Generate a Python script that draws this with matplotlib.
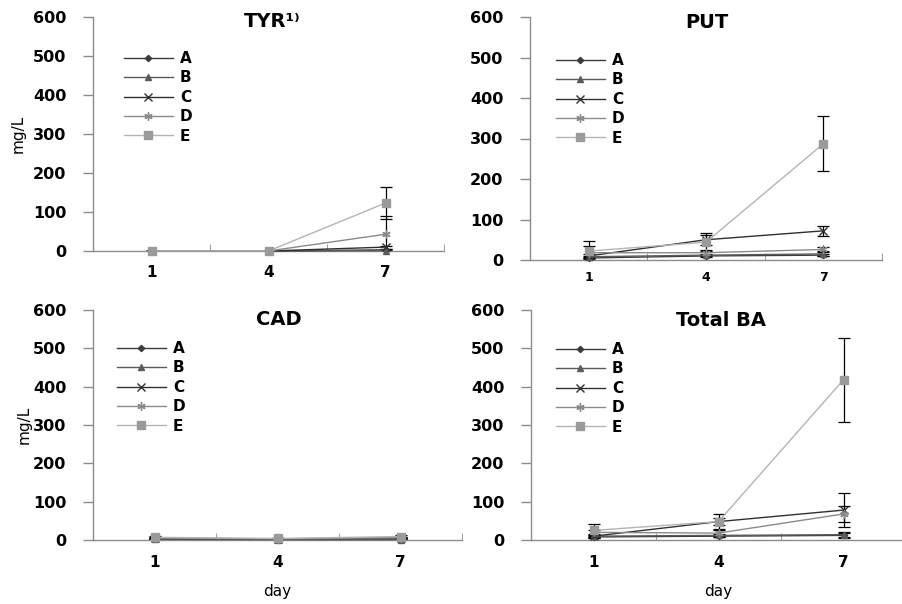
import matplotlib
matplotlib.use("Agg")
import matplotlib.pyplot as plt
import numpy as np

days = ["1", "4", "7"]
series = ["A", "B", "C", "D", "E"]

tyr_vals = {"A": [0, 0, 3], "B": [0, 0, 1], "C": [0, 0, 10], "D": [0, 0, 43], "E": [0, 0, 123]}
tyr_errs = {"A": [0, 0, 3], "B": [0, 0, 2], "C": [0, 0, 4], "D": [0, 0, 47], "E": [0, 0, 42]}

put_vals = {"A": [5, 10, 12], "B": [8, 12, 15], "C": [10, 50, 72], "D": [18, 18, 26], "E": [22, 44, 287]}
put_errs = {"A": [2, 3, 3], "B": [3, 3, 4], "C": [5, 12, 12], "D": [17, 6, 5], "E": [24, 22, 68]}

cad_vals = {"A": [3, 2, 2], "B": [2, 1, 1], "C": [4, 3, 5], "D": [5, 3, 6], "E": [7, 4, 9]}
cad_errs = {"A": [1, 1, 1], "B": [1, 1, 1], "C": [2, 1, 2], "D": [2, 1, 2], "E": [3, 2, 3]}

tot_vals = {"A": [8, 10, 12], "B": [10, 12, 14], "C": [10, 48, 78], "D": [20, 18, 68], "E": [25, 48, 418]}
tot_errs = {"A": [3, 3, 5], "B": [3, 4, 8], "C": [6, 10, 44], "D": [6, 8, 22], "E": [18, 20, 110]}

titles = ["TYR\u00b9\u207e", "PUT", "CAD", "Total BA"]

styles = {
    "A": dict(color="#3c3c3c", marker="D", ms=3.2, mfc="#3c3c3c", mec="#3c3c3c"),
    "B": dict(color="#5a5a5a", marker="^", ms=4.5, mfc="#5a5a5a", mec="#5a5a5a"),
    "C": dict(color="#303030", marker="x", ms=5.5, mfc="#303030", mec="#303030"),
    "D": dict(color="#8a8a8a", marker=(6, 2, 0), ms=6, mfc="#8a8a8a", mec="#8a8a8a"),
    "E": dict(color="#b4b4b4", marker="s", ms=5.5, mfc="#9a9a9a", mec="#9a9a9a"),
}

W, H = 902, 604
fig = plt.figure(figsize=(W / 100, H / 100), dpi=100)

# pixel boxes: left, right, y0 (value 0), ytop (value 600)
boxes = [(93, 444, 251, 17), (530, 882, 260, 17), (93, 462, 540, 310), (531, 906, 540, 310)]
legend_anchor = [(124, 51), (556, 53), (117, 341), (556, 342)]
data = [(tyr_vals, tyr_errs), (put_vals, put_errs), (cad_vals, cad_errs), (tot_vals, tot_errs)]
xt_size = [11, 9, 11, 11]
xt_pad = [10, 8, 11, 11]
title_pos = [(272, 12), (707, 13), (279, 310), (721, 311)]
ylab_x = [26, 32]

x = np.arange(1, len(days) + 1)
bold = dict(fontweight="bold", family="DejaVu Sans")

for i, ((l, r, y0, yt), (vals, errs)) in enumerate(zip(boxes, data)):
    ax = fig.add_axes([l / W, (H - y0) / H, (r - l) / W, (y0 - yt) / H])
    ax.set_xlim(0.5, len(days) + 0.5)
    ax.set_ylim(0, 600)
    handles = []
    for s in series:
        ax.errorbar(x, vals[s], yerr=errs[s], fmt="none", ecolor="black",
                    elinewidth=0.9, capsize=4.5, capthick=0.9, zorder=2)
    for s in series:
        st = styles[s]
        h, = ax.plot(x, vals[s], color=st["color"], lw=1.0, marker=st["marker"],
                     ms=st["ms"], mfc=st["mfc"], mec=st["mec"], mew=1.0, label=s,
                     zorder=3, clip_on=False)
        handles.append(h)
    for sp in ["top", "right"]:
        ax.spines[sp].set_visible(False)
    for sp in ["left", "bottom"]:
        ax.spines[sp].set_color("#8c8c8c")
        ax.spines[sp].set_linewidth(1.0)
    ax.set_yticks(range(0, 601, 100))
    ax.set_xticks(x)
    ax.set_xticklabels(days)
    ax.set_xticks(np.arange(1.5, len(days) + 0.6, 1.0), minor=True)
    ax.tick_params(axis="x", which="major", length=0, pad=xt_pad[i], labelsize=xt_size[i])
    ax.tick_params(axis="x", which="minor", direction="in", length=5, color="#8c8c8c")
    ax.tick_params(axis="y", which="major", direction="out", length=7, width=1.0,
                   color="#8c8c8c", pad=12, labelsize=11.5)
    for lab in ax.get_xticklabels() + ax.get_yticklabels():
        lab.set_fontweight("bold")
    tx, ty = title_pos[i]
    fig.text(tx / W, 1 - ty / H, titles[i], ha="center", va="top", fontsize=14, **bold)
    lx, ly = legend_anchor[i]
    ax.legend(handles=handles, loc="upper left",
              bbox_to_anchor=((lx - l) / (r - l), (y0 - ly) / (y0 - yt)),
              frameon=False, borderaxespad=0, borderpad=0, handlelength=3.2,
              handletextpad=0.45, labelspacing=0.29, prop=dict(weight="bold", size=11))
    if i in (0, 2):
        ax.set_ylabel("mg/L", fontsize=11)
        ax.yaxis.set_label_coords(-(l - ylab_x[i // 2]) / (r - l), 0.5)
    if i in (2, 3):
        ax.set_xlabel("day", fontsize=11)
        ax.xaxis.set_label_coords(0.5, -(584 - y0) / (y0 - yt))

fig.savefig("out.png", dpi=100)
